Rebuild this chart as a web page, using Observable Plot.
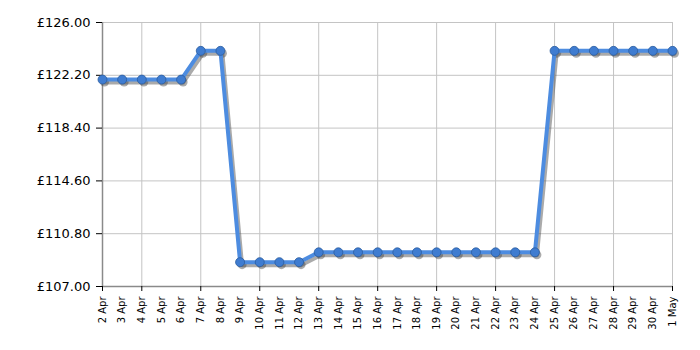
<!DOCTYPE html>
<html><head><meta charset="utf-8">
<script src="https://cdn.jsdelivr.net/npm/d3@7"></script>
<script src="https://cdn.jsdelivr.net/npm/@observablehq/plot@0.6"></script>
<style>body{margin:0;background:#fff}</style>
</head><body><div id="chart"></div>
<script>
const dates = ["2 Apr","3 Apr","4 Apr","5 Apr","6 Apr","7 Apr","8 Apr","9 Apr","10 Apr","11 Apr","12 Apr","13 Apr","14 Apr","15 Apr","16 Apr","17 Apr","18 Apr","19 Apr","20 Apr","21 Apr","22 Apr","23 Apr","24 Apr","25 Apr","26 Apr","27 Apr","28 Apr","29 Apr","30 Apr","1 May"];
const prices = [121.89,121.89,121.89,121.89,121.89,123.96,123.96,108.75,108.75,108.75,108.75,109.46,109.46,109.46,109.46,109.46,109.46,109.46,109.46,109.46,109.46,109.46,109.46,123.96,123.96,123.96,123.96,123.96,123.96,123.96];
const gridDates = ["2 Apr","4 Apr","7 Apr","10 Apr","13 Apr","16 Apr","19 Apr","22 Apr","25 Apr","28 Apr","1 May"];
const yTicks = [107, 110.8, 114.6, 118.4, 122.2, 126];

const data = dates.map((d, i) => ({i, date: d, price: prices[i]}));
const idx = dates.map((d, i) => i);
const gridIdx = gridDates.map(d => dates.indexOf(d));
const lab = i => dates[i];

const chart = Plot.plot({
  width: 700,
  height: 350,
  marginLeft: 102,
  marginRight: 28,
  marginTop: 22,
  marginBottom: 64,
  style: {fontFamily: "'DejaVu Sans', Verdana, sans-serif", background: "#fff", overflow: "visible"},
  x: {type: "linear", domain: [0, dates.length - 1], label: null},
  y: {domain: [107, 126], label: null},
  marks: [
    Plot.ruleY(yTicks.slice(1), {stroke: "#c4c4c4", strokeWidth: 1}),
    Plot.ruleX(gridIdx.slice(1), {stroke: "#c4c4c4", strokeWidth: 1}),
    Plot.ruleY([107], {stroke: "#8a8a8a", strokeWidth: 1.5}),
    Plot.ruleX([0], {stroke: "#8a8a8a", strokeWidth: 1.5}),
    Plot.axisY({ticks: yTicks, tickFormat: d => "£" + d.toFixed(2), tickSize: 6, tickPadding: 6, fontSize: 13, stroke: "#000", color: "#000"}),
    Plot.axisX({ticks: idx, tickFormat: lab, tickSize: 0, tickRotate: -90, tickPadding: 10, fontSize: 10, color: "#000"}),
    Plot.axisX({ticks: gridIdx, tickSize: 5, tickFormat: () => "", stroke: "#000"}),
    Plot.line(data, {x: "i", y: "price", stroke: "#555", strokeOpacity: 0.5, strokeWidth: 4, dx: 2, dy: 3}),
    Plot.dot(data, {x: "i", y: "price", r: 4.5, fill: "#444", fillOpacity: 0.45, dx: 2, dy: 2.5}),
    Plot.line(data, {x: "i", y: "price", stroke: "#4d8ce0", strokeWidth: 4}),
    Plot.dot(data, {x: "i", y: "price", r: 4.5, fill: "#3f7cd0", stroke: "#2a5c9e", strokeWidth: 0.8})
  ]
});
document.getElementById("chart").append(chart);
</script>
</body></html>
